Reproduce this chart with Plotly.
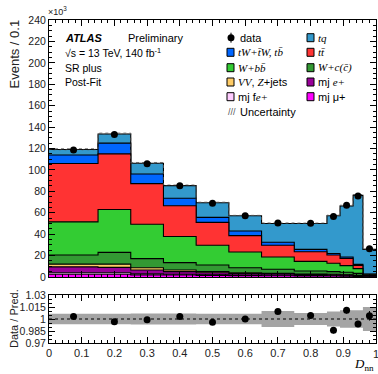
import plotly.graph_objects as go
import numpy as np

# ---------------- data ----------------
bin_edges = [0, 0.15, 0.25, 0.35, 0.45, 0.55, 0.65, 0.75, 0.85, 0.89, 0.93, 0.96, 1.0]
bin_centers = [0.075, 0.2, 0.3, 0.4, 0.5, 0.6, 0.7, 0.8, 0.87, 0.91, 0.945, 0.98]

# stacked components (thousand events / 0.1), bottom -> top
mj_mu  = [2.5, 2.5, 2.0, 1.8, 1.5, 1.3, 1.2, 1.0, 0.9, 0.8, 0.6, 0.3]
mj_fe  = [1.5, 1.5, 1.0, 0.8, 0.6, 0.5, 0.4, 0.3, 0.3, 0.2, 0.2, 0.1]
mj_e   = [5.5, 5.0, 3.5, 2.4, 1.9, 1.4, 1.2, 1.0, 0.9, 0.8, 0.6, 0.3]
vv_z   = [2.5, 3.0, 2.2, 1.6, 1.0, 0.8, 0.6, 0.5, 0.4, 0.3, 0.2, 0.1]
w_c    = [8.5, 11.0, 8.5, 6.8, 6.2, 4.7, 3.8, 2.8, 2.5, 2.3, 1.8, 0.5]
w_bb   = [31.0, 40.0, 32.0, 24.4, 18.4, 14.6, 11.5, 9.0, 7.8, 6.2, 4.4, 0.7]
ttbar  = [54.5, 52.0, 38.0, 28.7, 21.4, 15.3, 10.9, 9.0, 7.7, 6.8, 3.1, 0.5]
tw     = [8.0, 10.0, 9.0, 7.0, 4.7, 4.4, 2.8, 2.2, 1.5, 1.3, 0.9, 0.3]
tq     = [5.0, 8.5, 10.0, 11.8, 13.7, 14.2, 17.6, 24.2, 35.2, 47.6, 64.4, 23.0]

data_vals = [118.5, 133.0, 105.8, 85.2, 68.8, 57.2, 50.4, 50.3, 56.4, 67.0, 75.6, 26.3]
data_errs = [0.35, 0.37, 0.33, 0.29, 0.26, 0.24, 0.22, 0.22, 0.24, 0.26, 0.27, 0.16]

ratio_vals = [1.003, 0.9967, 0.999, 1.003, 0.996, 1.0, 1.0095, 1.0045, 0.986, 1.0108, 0.9938, 1.004]
ratio_errs = [0.0015, 0.0015, 0.0015, 0.0015, 0.002, 0.002, 0.002, 0.002, 0.004, 0.004, 0.004, 0.006]
unc_rel    = [0.0065, 0.0065, 0.007, 0.007, 0.0065, 0.0065, 0.01, 0.0075, 0.0095, 0.011, 0.011, 0.015]

x_tickvals = [0, 0.1, 0.2, 0.3, 0.4, 0.5, 0.6, 0.7, 0.8, 0.9]
x_ticktext = ["0", "0.1", "0.2", "0.3", "0.4", "0.5", "0.6", "0.7", "0.8", "0.9"]
r_tickvals = [0.97, 0.985, 1.0, 1.015, 1.03]
r_ticktext = ["0.97", "0.985", "1", "1.015", "1.03"]

components = [
    ("mj μ+", mj_mu, "#ff00ff"),
    ("mj fe+", mj_fe, "#ffccff"),
    ("mj e+", mj_e, "#990099"),
    ("VV, Z+jets", vv_z, "#ffcc66"),
    ("W+c", w_c, "#339933"),
    ("W+bb", w_bb, "#33cc33"),
    ("ttbar", ttbar, "#ff3333"),
    ("tW", tw, "#0066ff"),
    ("tq", tq, "#3399cc"),
]

# ---------------- geometry helpers ----------------
W, H = 378, 374
ML, MR, MT, MB = 49, 2, 20, 31
PW, PH = W - ML - MR, H - MT - MB
def xp(px):
    return (px - ML) / PW
def yp(py):
    return (H - MB - py) / PH

main_bottom = yp(277)
ratio_top = yp(295)

fig = go.Figure()

# stacked histogram as filled steps (draw top-most cumulative first)
cum = np.cumsum(np.array([c[1] for c in components]), axis=0)
for i in range(len(components) - 1, -1, -1):
    name, vals, col = components[i]
    yy = list(cum[i]) + [cum[i][-1]]
    fig.add_trace(go.Scatter(
        x=bin_edges, y=yy, mode="lines", line_shape="hv",
        line=dict(color="black", width=1.1), fill="tozeroy", fillcolor=col,
        showlegend=False, hoverinfo="skip", xaxis="x", yaxis="y"))

# uncertainty band on total
total = cum[-1]
up = [t * (1 + u) for t, u in zip(total, unc_rel)]
dn = [t * (1 - u) for t, u in zip(total, unc_rel)]
fig.add_trace(go.Scatter(x=bin_edges, y=dn + [dn[-1]], mode="lines", line_shape="hv",
                         line=dict(width=0, color="rgba(0,0,0,0)"), showlegend=False,
                         hoverinfo="skip", xaxis="x", yaxis="y"))
fig.add_trace(go.Scatter(x=bin_edges, y=up + [up[-1]], mode="lines", line_shape="hv",
                         line=dict(width=0.8, color="#555555", dash="dot"), fill="tonexty",
                         fillpattern=dict(shape="/", fgcolor="#555555", bgcolor="rgba(0,0,0,0)",
                                          size=4, solidity=0.3),
                         showlegend=False, hoverinfo="skip", xaxis="x", yaxis="y"))

# data points
fig.add_trace(go.Scatter(x=bin_centers, y=data_vals, mode="markers",
                         marker=dict(color="black", size=7),
                         error_y=dict(type="data", array=data_errs, color="black", thickness=1, width=0),
                         showlegend=False, xaxis="x", yaxis="y"))

# ratio band
rl = [1 - u for u in unc_rel]
ru = [1 + u for u in unc_rel]
fig.add_trace(go.Scatter(x=bin_edges, y=rl + [rl[-1]], mode="lines", line_shape="hv",
                         line=dict(width=0), showlegend=False, hoverinfo="skip",
                         xaxis="x2", yaxis="y2"))
fig.add_trace(go.Scatter(x=bin_edges, y=ru + [ru[-1]], mode="lines", line_shape="hv",
                         line=dict(width=0), fill="tonexty", fillcolor="#a4a4a4",
                         showlegend=False, hoverinfo="skip", xaxis="x2", yaxis="y2"))
fig.add_trace(go.Scatter(x=[0, 1], y=[1, 1], mode="lines",
                         line=dict(color="black", width=1, dash="dot"),
                         showlegend=False, hoverinfo="skip", xaxis="x2", yaxis="y2"))
fig.add_trace(go.Scatter(x=bin_centers, y=ratio_vals, mode="markers",
                         marker=dict(color="black", size=7),
                         error_y=dict(type="data", array=ratio_errs, color="black", thickness=1, width=0),
                         showlegend=False, xaxis="x2", yaxis="y2"))

SANS = "Liberation Sans, Arial, sans-serif"
SERIF = "Liberation Serif, Times New Roman, serif"
tickfont = dict(family=SANS, size=10.5, color="#222222")
axis_common = dict(showline=True, linecolor="black", linewidth=1, mirror="ticks",
                   ticks="inside", ticklen=6, tickcolor="black", showgrid=False,
                   zeroline=False)

fig.update_layout(
    width=W, height=H, margin=dict(l=ML, r=MR, t=MT, b=MB),
    paper_bgcolor="white", plot_bgcolor="white",
    showlegend=False,
    xaxis=dict(domain=[0, 1], range=[0, 1], anchor="y", matches="x2", showticklabels=False,
               dtick=0.1, minor=dict(dtick=0.02, ticks="inside", ticklen=3, tickcolor="black"),
               **axis_common),
    yaxis=dict(domain=[main_bottom, 1], range=[0, 240], anchor="x", dtick=20,
               tickfont=tickfont,
               minor=dict(dtick=5, ticks="inside", ticklen=3, tickcolor="black"),
               **axis_common),
    xaxis2=dict(domain=[0, 1], range=[0, 1], anchor="y2",
                tickvals=x_tickvals, ticktext=x_ticktext,
                tickfont=dict(family=SANS, size=11, color="#222222"),
                minor=dict(dtick=0.02, ticks="inside", ticklen=3, tickcolor="black"),
                **axis_common),
    yaxis2=dict(domain=[0, ratio_top], range=[0.97, 1.03], anchor="x2",
                tickvals=r_tickvals, ticktext=r_ticktext,
                tickfont=tickfont,
                minor=dict(dtick=0.005, ticks="inside", ticklen=3, tickcolor="black"),
                **axis_common),
)

ann = []
def text(px, py, s, size=11, family=SANS, xanchor="left", color="black", **kw):
    ann.append(dict(x=xp(px), y=yp(py), xref="paper", yref="paper", text=s,
                    showarrow=False, xanchor=xanchor, yanchor="middle",
                    font=dict(family=family, size=size, color=color), **kw))

# last x tick label at the right edge (partially at border, like the reference)
ann.append(dict(x=1.0, y=0, xref="x2", yref="paper", text="1", showarrow=False,
                xanchor="center", yanchor="top", yshift=-3,
                font=dict(family=SANS, size=11, color="#222222")))

# axis titles
ann.append(dict(x=xp(14), y=yp(18), xref="paper", yref="paper", text="Events / 0.1",
                showarrow=False, textangle=-90, xanchor="center", yanchor="top",
                font=dict(family=SANS, size=13, color="#222222")))
ann.append(dict(x=xp(14), y=yp(319), xref="paper", yref="paper", text="Data / Pred.",
                showarrow=False, textangle=-90, xanchor="center", yanchor="middle",
                font=dict(family=SANS, size=11, color="#222222")))
text(57, 11, "×10<sup>3</sup>", size=9, xanchor="center", color="#222222")
text(376, 364, "<i>D</i><sub>nn</sub>", size=13, family=SERIF, xanchor="right")

# ATLAS labels
text(63, 37.7, "<b><i>ATLAS</i></b>", size=11)
text(126, 37.7, "Preliminary", size=11)
text(63, 52.3, "√s = 13 TeV, 140 fb<sup>-1</sup>", size=10.5)
text(63, 67.7, "SR plus", size=10.5)
text(63, 82, "Post-Fit", size=10.5)

# legend
LS = 11
shapes = []
rows = [37.7, 52.3, 67.7, 82, 96.7, 112.3]
def box(px, py, col):
    shapes.append(dict(type="rect", xref="paper", yref="paper",
                       x0=xp(px), x1=xp(px + 7), y0=yp(py + 4), y1=yp(py - 4),
                       fillcolor=col, line=dict(color="black", width=1)))

colmap = {c[0]: c[2] for c in components}
# data marker
shapes.append(dict(type="circle", xref="paper", yref="paper",
                   x0=xp(227.5), x1=xp(234.5), y0=yp(rows[0] + 3.5), y1=yp(rows[0] - 3.5),
                   fillcolor="black", line=dict(color="black", width=0)))
shapes.append(dict(type="line", xref="paper", yref="paper",
                   x0=xp(231), x1=xp(231), y0=yp(rows[0] + 5), y1=yp(rows[0] - 5),
                   line=dict(color="black", width=1)))
text(238, rows[0], "data", size=LS)

def serif(s):
    return '<span style="font-family:Liberation Serif"><i>' + s + '</i></span>'

box(227, rows[1], colmap["tW"])
text(236, rows[1], serif("tW") + serif("+t̄W, tb̄"), size=LS, family=SERIF)
box(227, rows[2], colmap["W+bb"])
text(236, rows[2], serif("W") + serif("+bb̄"), size=LS, family=SERIF)
box(227, rows[3], colmap["VV, Z+jets"])
text(236, rows[3], serif("VV") + ", " + serif("Z") + "+jets", size=LS)
box(227, rows[4], colmap["mj fe+"])
text(236, rows[4], "mj f" + serif("e+"), size=LS)
text(232, rows[5], "///", size=9, color="#555555", xanchor="center")
text(238, rows[5], "Uncertainty", size=LS)

box(307, rows[0], colmap["tq"])
text(316, rows[0], serif("tq"), size=LS, family=SERIF)
box(307, rows[1], colmap["ttbar"])
text(316, rows[1], serif("tt̄"), size=LS, family=SERIF)
box(307, rows[2], colmap["W+c"])
text(316, rows[2], serif("W") + serif("+c(c̄)"), size=LS, family=SERIF)
box(307, rows[3], colmap["mj e+"])
text(316, rows[3], "mj " + serif("e+"), size=LS)
box(307, rows[4], colmap["mj μ+"])
text(316, rows[4], "mj μ+", size=LS)

fig.update_layout(annotations=ann, shapes=shapes)
fig.write_html("out.html", config={"displayModeBar": False},
               post_script="document.body.style.margin='0px';document.body.style.overflow='hidden';")
